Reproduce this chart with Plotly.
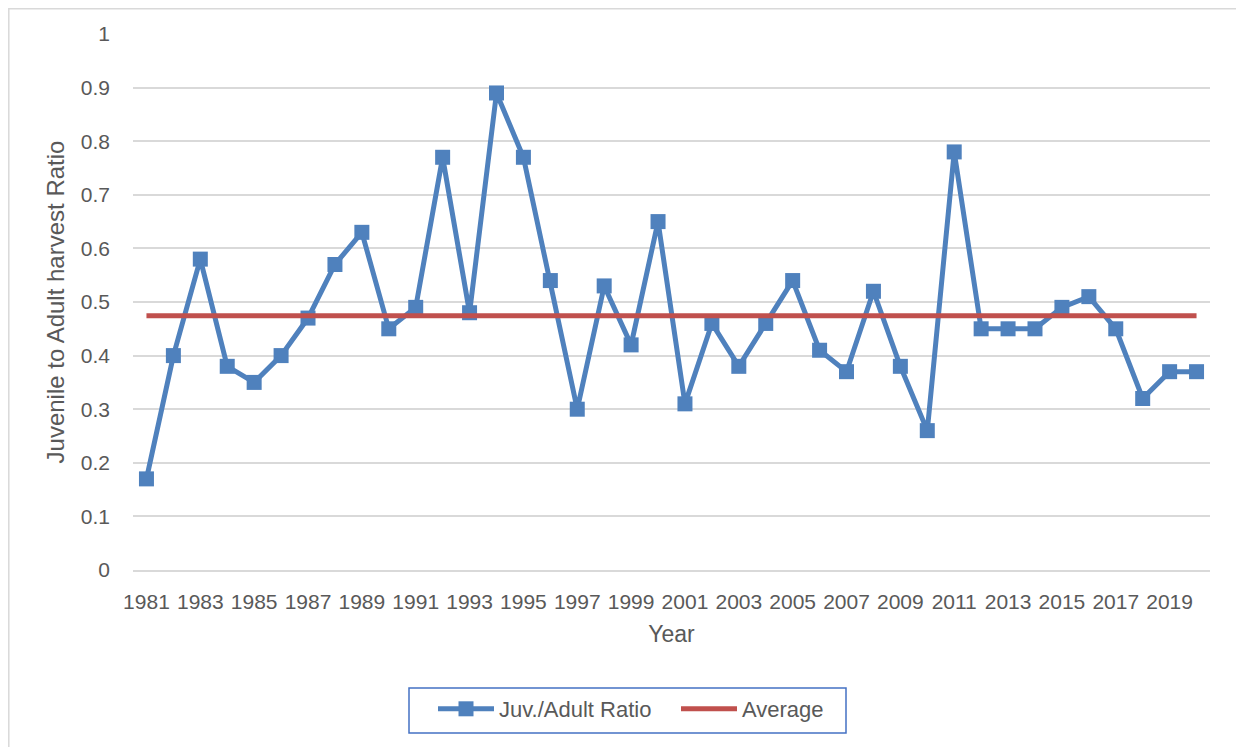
import plotly.graph_objects as go

years = list(range(1981, 2021))
ratio = [0.17, 0.40, 0.58, 0.38, 0.35, 0.40, 0.47, 0.57, 0.63, 0.45,
         0.49, 0.77, 0.48, 0.89, 0.77, 0.54, 0.30, 0.53, 0.42, 0.65,
         0.31, 0.46, 0.38, 0.46, 0.54, 0.41, 0.37, 0.52, 0.38, 0.26,
         0.78, 0.45, 0.45, 0.45, 0.49, 0.51, 0.45, 0.32, 0.37, 0.37]
avg_value = sum(ratio) / len(ratio)
average = [avg_value] * len(years)
tick_years = list(range(1981, 2020, 2))

FONT = "Liberation Sans"
TXT = "#595959"

fig = go.Figure()
fig.add_trace(go.Scatter(
    x=years, y=ratio, name="Juv./Adult Ratio", mode="lines+markers",
    line=dict(color="#4F81BD", width=5),
    marker=dict(symbol="square", size=15, color="#4F81BD"),
))
fig.add_trace(go.Scatter(
    x=years, y=average, name="Average", mode="lines",
    line=dict(color="#C0504D", width=5),
))

# page has an 8px body margin; work in screen pixels and shift
OFF = 8
W, H = 1244, 747
Ls, Rs, Ts, Bs = 133, 1210, 34, 570  # plot area in screen pixels
L = Ls - OFF
T = Ts - OFF
R = W - (Rs - OFF)
B = H - (Bs - OFF)
pw, ph = Rs - Ls, Bs - Ts

def px(x):
    return (x - Ls) / pw

def py(y):
    return (Bs - y) / ph

fig.update_layout(
    width=W, height=H,
    margin=dict(l=L, r=R, t=T, b=B),
    paper_bgcolor="white", plot_bgcolor="white",
    font=dict(family=FONT, size=21, color=TXT),
    showlegend=True,
    legend=dict(
        orientation="h", x=px(433), xanchor="left", y=py(688), yanchor="top",
        borderwidth=0, bgcolor="rgba(0,0,0,0)",
        font=dict(family=FONT, size=22, color=TXT),
        itemwidth=56, entrywidth=172,
    ),
    xaxis=dict(
        range=[1980.5, 2020.5], tickmode="array", tickvals=tick_years,
        ticktext=[str(y) for y in tick_years],
        showgrid=False, zeroline=False,
        showline=True, linecolor="#d9d9d9", linewidth=1.5,
        ticks="", ticklabelstandoff=12,
        tickfont=dict(family=FONT, size=21, color=TXT),
        title=dict(text="Year", font=dict(family=FONT, size=23, color=TXT), standoff=14),
    ),
    yaxis=dict(
        range=[0, 1], dtick=0.1, tick0=0,
        showgrid=True, gridcolor="#d9d9d9", gridwidth=1.5,
        zeroline=False, showline=False, ticks="",
        ticklabelstandoff=22,
        tickfont=dict(family=FONT, size=21, color=TXT),
        title=dict(text="Juvenile to Adult harvest Ratio",
                   font=dict(family=FONT, size=24, color=TXT), standoff=9),
    ),
    shapes=[
        dict(type="rect", xref="paper", yref="paper",
             x0=px(8.8), x1=px(1270), y0=py(780), y1=py(8.8),
             line=dict(color="#d9d9d9", width=1.5), fillcolor="rgba(0,0,0,0)",
             layer="below"),
        dict(type="rect", xref="paper", yref="paper",
             x0=px(409), x1=px(846), y0=py(733), y1=py(688),
             line=dict(color="#4472C4", width=1.5), fillcolor="white",
             layer="below"),
    ],
)

fig.write_html("out.html")
